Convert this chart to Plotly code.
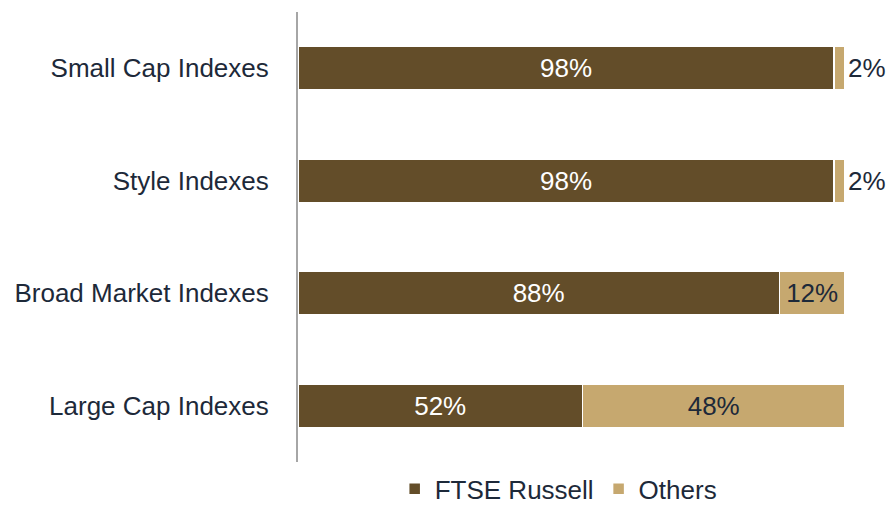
import plotly.graph_objects as go

categories = ["Small Cap Indexes", "Style Indexes", "Broad Market Indexes", "Large Cap Indexes"]
ftse_russell = [98, 98, 88, 52]
others = [2, 2, 12, 48]

DARK = "#634D29"
TAN = "#C6A86F"
TEXT = "#1D2939"
FONT = "Liberation Sans, Arial, sans-serif"
SIZE = 26

fig = go.Figure()
fig.add_trace(go.Bar(
    y=categories, x=ftse_russell, orientation="h", name="FTSE Russell",
    marker=dict(color=DARK, line=dict(color="white", width=1.5)),
    text=[f"{v}%" for v in ftse_russell], textposition="inside",
    insidetextanchor="middle", textfont=dict(color="white", size=SIZE, family=FONT),
    hoverinfo="skip",
))
fig.add_trace(go.Bar(
    y=categories, x=others, orientation="h", name="Others",
    marker=dict(color=TAN, line=dict(color="white", width=1.5)),
    text=[f"{v}%" for v in others],
    textposition=["outside" if v < 5 else "inside" for v in others],
    insidetextanchor="middle",
    insidetextfont=dict(color=TEXT, size=SIZE, family=FONT),
    outsidetextfont=dict(color=TEXT, size=SIZE, family=FONT),
    cliponaxis=False, hoverinfo="skip",
))

fig.update_layout(
    width=886, height=505,
    barmode="stack", bargap=0.61,
    plot_bgcolor="white", paper_bgcolor="white",
    # fixed margins so the legend below does not shrink the plot area
    margin=dict(l=298, r=41, t=12, b=43, autoexpand=False),
    font=dict(family=FONT, color=TEXT, size=SIZE),
    xaxis=dict(range=[0, 100], visible=False, showgrid=False, zeroline=False),
    yaxis=dict(
        autorange="reversed", showgrid=False, zeroline=False,
        showline=True, linecolor="#A6A6A6", linewidth=2,
        ticks="", ticklabelstandoff=22,
        tickfont=dict(size=SIZE, color=TEXT, family=FONT),
    ),
    legend=dict(
        orientation="h", traceorder="normal",
        xref="container", x=0.63, xanchor="center",
        yref="container", y=0.032, yanchor="middle",
        font=dict(size=SIZE, color=TEXT, family=FONT),
        itemwidth=30, tracegroupgap=0,
    ),
    showlegend=True,
)

fig.write_html("out.html")
